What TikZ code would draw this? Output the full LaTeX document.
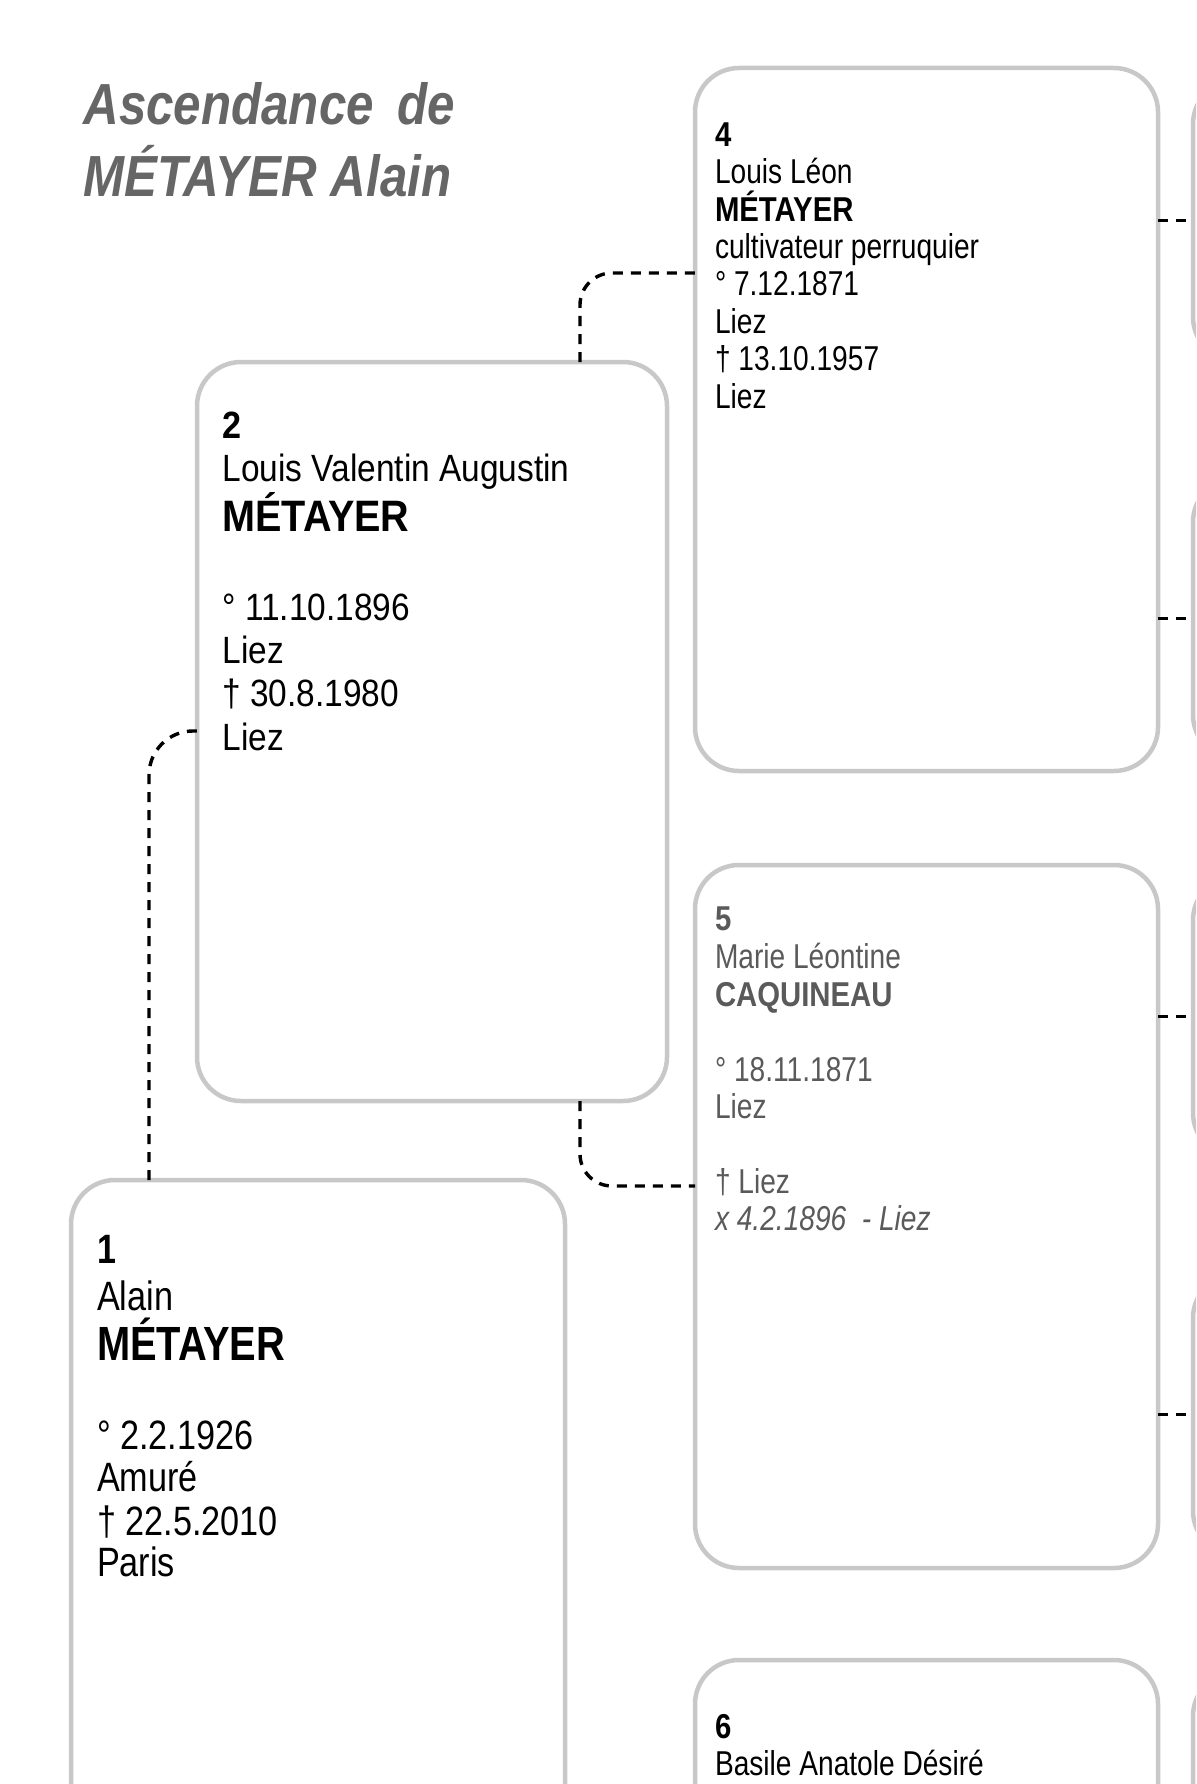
\documentclass[tikz,border=0pt]{standalone}
\usepackage{fontspec}
\setmainfont{Liberation Sans}
\newfontfamily\fTit[FakeStretch=0.85]{Liberation Sans}
\newfontfamily\fSmall[FakeStretch=0.815]{Liberation Sans}
\newfontfamily\fSmallB[FakeStretch=0.85]{Liberation Sans Bold}
\newfontfamily\fMid[FakeStretch=0.88]{Liberation Sans}
\newfontfamily\fMidB[FakeStretch=0.90]{Liberation Sans Bold}
\newfontfamily\fRoot[FakeStretch=0.835]{Liberation Sans}
\newfontfamily\fRootB[FakeStretch=0.83]{Liberation Sans Bold}
\definecolor{boxgray}{RGB}{200,200,200}
\definecolor{titlegray}{RGB}{102,102,102}
\definecolor{femgray}{RGB}{90,90,90}
\newcommand{\szSmall}{\fSmall\fontsize{34.5}{37.5}\selectfont}
\newcommand{\szSmallB}{\fSmallB\fontsize{34.5}{37.5}\selectfont}
\newcommand{\szMid}{\fMid\fontsize{38}{44}\selectfont}
\newcommand{\szMidNum}{\fMidB\fontsize{38}{44}\selectfont}
\newcommand{\szMidB}{\fMidB\fontsize{44}{50}\selectfont}
\newcommand{\szRoot}{\fRoot\fontsize{41}{44}\selectfont}
\newcommand{\szRootNum}{\fRootB\fontsize{41}{44}\selectfont}
\newcommand{\szRootB}{\fRootB\fontsize{48}{50}\selectfont}
\newcommand{\szTitle}{\fTit\bfseries\itshape\fontsize{58}{72}\selectfont}
\tikzset{
  pbox/.style={draw=boxgray, line width=4.5pt, rounded corners=44pt, fill=white,
    inner sep=0pt, outer sep=0pt, anchor=north west},
  conn/.style={draw=black, line width=3.4pt, dash pattern=on 10pt off 8pt},
  txt/.style={anchor=base west, inner sep=0pt, outer sep=0pt},
}
\begin{document}
\begin{tikzpicture}[x=1pt,y=-1pt]
\useasboundingbox (0,0) rectangle (1196,1784);
\clip (0,0) rectangle (1196,1784);

% right column (generation 4), only their left edges show
\foreach \t/\n in {80/8,478/9,876/10,1274/11,1672/12}{
  \node[pbox, minimum width=463pt, minimum height=281pt] (r\n) at (1193,\t) {};
}

% boxes
\node[pbox, minimum width=463pt, minimum height=703pt] (b4) at (695,68) {};
\node[pbox, minimum width=463pt, minimum height=703pt] (b5) at (695,865) {};
\node[pbox, minimum width=463pt, minimum height=703pt] (b6) at (695,1660) {};
\node[pbox, minimum width=470pt, minimum height=739pt] (b2) at (197,362) {};
\node[pbox, minimum width=494pt, minimum height=900pt] (b1) at (71,1180) {};

% connectors
\coordinate (j24) at (580,273);
\coordinate (j25) at (580,1186);
\coordinate (j12) at (149,731);
\draw[conn, rounded corners=32pt] (j24 |- b2.north) |- (b4.west |- j24);
\draw[conn, rounded corners=32pt] (j25 |- b2.south) |- (b5.west |- j25);
\draw[conn, rounded corners=44pt] (j12 |- b1.north) |- (b2.west |- j12);
\draw[conn] (b4.east |- r8.west) -- (r8.west);
\draw[conn] (b4.east |- r9.west) -- (r9.west);
\draw[conn] (b5.east |- r10.west) -- (r10.west);
\draw[conn] (b5.east |- r11.west) -- (r11.west);

% title
\node[txt, text=titlegray] (ti1) at (83.5,125) {\szTitle Ascendance\hspace{0.4em}de};
\node[txt, text=titlegray] (ti2) at (83.5,196.7) {\szTitle MÉTAYER Alain};

% box 4
\node[txt] (t4a) at (715,146.7) {\szSmallB 4};
\node[txt] (t4b) at (715,184) {\szSmall Louis Léon};
\node[txt] (t4c) at (715,221.3) {\szSmallB MÉTAYER};
\node[txt] (t4d) at (715,258.7) {\szSmall cultivateur perruquier};
\node[txt] (t4e) at (715,296) {\szSmall ° 7.12.1871};
\node[txt] (t4f) at (715,333.3) {\szSmall Liez};
\node[txt] (t4g) at (715,370.7) {\szSmall † 13.10.1957};
\node[txt] (t4h) at (715,408) {\szSmall Liez};

% box 5
\begin{scope}[every node/.append style={text=femgray}]
\node[txt] (t5a) at (715,930.7) {\szSmallB 5};
\node[txt] (t5b) at (715,968.3) {\szSmall Marie Léontine};
\node[txt] (t5c) at (715,1006) {\szSmallB CAQUINEAU};
\node[txt] (t5d) at (715,1081) {\szSmall ° 18.11.1871};
\node[txt] (t5e) at (715,1118.3) {\szSmall Liez};
\node[txt] (t5f) at (715,1193.3) {\szSmall † Liez};
\node[txt] (t5g) at (715,1230) {\szSmall\itshape x 4.2.1896\ \ - Liez};
\end{scope}

% box 6
\node[txt] (t6a) at (715,1738) {\szSmallB 6};
\node[txt] (t6b) at (715,1775) {\szSmall Basile Anatole Désiré};

% box 2
\node[txt] (t2a) at (222.5,438.3) {\szMidNum 2};
\node[txt] (t2b) at (222.5,481) {\szMid Louis Valentin Augustin};
\node[txt] (t2c) at (222.5,531.7) {\szMidB MÉTAYER};
\node[txt] (t2d) at (222.5,620.7) {\szMid ° 11.10.1896};
\node[txt] (t2e) at (222.5,663.3) {\szMid Liez};
\node[txt] (t2f) at (222.5,706.7) {\szMid † 30.8.1980};
\node[txt] (t2g) at (222.5,750) {\szMid Liez};

% box 1
\node[txt] (t1a) at (97,1263.3) {\szRootNum 1};
\node[txt] (t1b) at (97,1310) {\szRoot Alain};
\node[txt] (t1c) at (97,1360) {\szRootB MÉTAYER};
\node[txt] (t1d) at (97,1449.3) {\szRoot ° 2.2.1926};
\node[txt] (t1e) at (97,1491.7) {\szRoot Amuré};
\node[txt] (t1f) at (97,1535) {\szRoot † 22.5.2010};
\node[txt] (t1g) at (97,1576.7) {\szRoot Paris};
\end{tikzpicture}
\end{document}
